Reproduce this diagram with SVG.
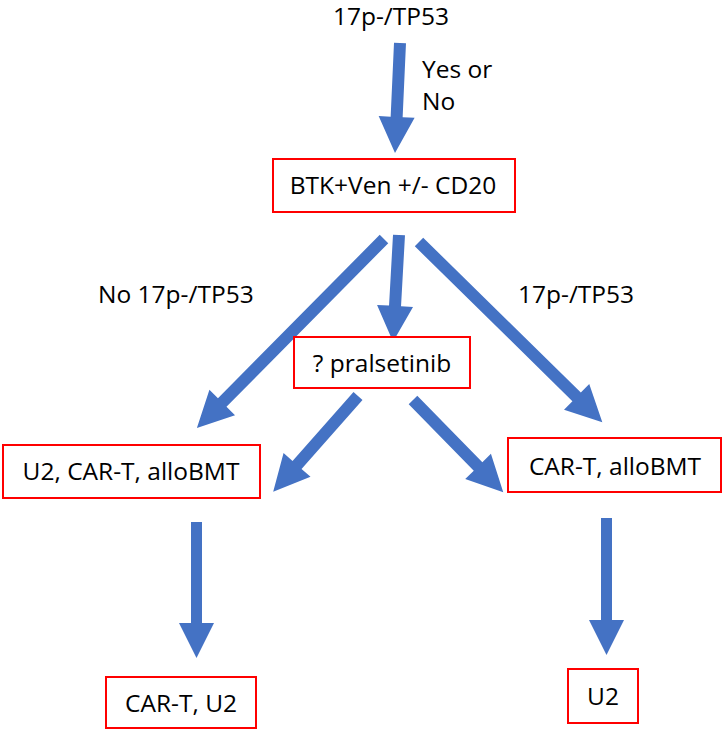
<svg xmlns="http://www.w3.org/2000/svg" width="722" height="730" viewBox="0 0 722 730">
<style>
text{font-family:"Open Sans","Liberation Sans",sans-serif;font-size:24.5px;fill:#000}
.box{fill:#fff;stroke:#ff0000;stroke-width:2}
.arr{fill:#4472c4}
</style>
<rect width="722" height="730" fill="#fff"/>
<g id="labels">
<text x="391" y="25" text-anchor="middle">17p-/TP53</text>
<text x="422" y="78">Yes or</text>
<text x="422" y="110">No</text>
<text x="98" y="303">No 17p-/TP53</text>
<text x="518" y="303">17p-/TP53</text>
</g>
<g id="connectors">
<polygon class="arr" transform="translate(400,43) rotate(92.6)" points="0,-6 74,-6 74,-18 110,0 74,18 74,6 0,6"/>
<polygon class="arr" transform="translate(384,239) rotate(134.7)" points="0,-6 230,-6 230,-18 266,0 230,18 230,6 0,6"/>
<polygon class="arr" transform="translate(399,235) rotate(93.2)" points="0,-6 71,-6 71,-18 107,0 71,18 71,6 0,6"/>
<polygon class="arr" transform="translate(419,242) rotate(44.5)" points="0,-6 221,-6 221,-18 257,0 221,18 221,6 0,6"/>
<polygon class="arr" transform="translate(358,396) rotate(131.5)" points="0,-6 92,-6 92,-18 128,0 92,18 92,6 0,6"/>
<polygon class="arr" transform="translate(413,400) rotate(45.6)" points="0,-6 93,-6 93,-18 129,0 93,18 93,6 0,6"/>
<polygon class="arr" transform="translate(196.5,522) rotate(90)" points="0,-5.5 101,-5.5 101,-17.5 136,0 101,17.5 101,5.5 0,5.5"/>
<polygon class="arr" transform="translate(606.5,518) rotate(90)" points="0,-5.5 102,-5.5 102,-17.5 137,0 102,17.5 102,5.5 0,5.5"/>
</g>
<g id="n-btk">
<rect class="box" x="273" y="159" width="242" height="53"/>
<text x="393" y="194" text-anchor="middle">BTK+Ven +/- CD20</text>
</g>
<g id="n-pral">
<rect class="box" x="294" y="337" width="176" height="51"/>
<text x="382" y="372" text-anchor="middle">? pralsetinib</text>
</g>
<g id="n-u2cart">
<rect class="box" x="3" y="445" width="257" height="53"/>
<text x="131" y="480" text-anchor="middle">U2, CAR-T, alloBMT</text>
</g>
<g id="n-cartallo">
<rect class="box" x="508" y="438" width="213" height="54"/>
<text x="615" y="475" text-anchor="middle">CAR-T, alloBMT</text>
</g>
<g id="n-cartu2">
<rect class="box" x="106" y="677" width="150" height="51"/>
<text x="181" y="712" text-anchor="middle">CAR-T, U2</text>
</g>
<g id="n-u2">
<rect class="box" x="568" y="669" width="70" height="54"/>
<text x="603" y="705" text-anchor="middle">U2</text>
</g>
</svg>
